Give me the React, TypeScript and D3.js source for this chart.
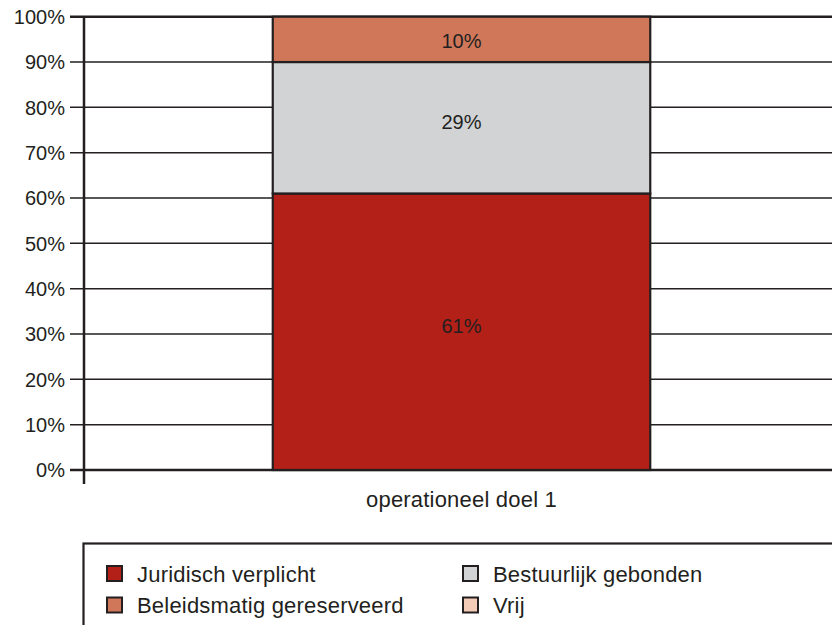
import React from "react";
import * as d3 from "d3";

const categories = ["operationeel doel 1"];
const seriesNames = ["Juridisch verplicht", "Bestuurlijk gebonden", "Beleidsmatig gereserveerd", "Vrij"];
const seriesValues = [[61], [29], [10], [0]];
const seriesColors = ["#B32017", "#D1D3D4", "#D0775A", "#F3CBB6"];
const yTicks = [0, 10, 20, 30, 40, 50, 60, 70, 80, 90, 100];
const legendOrder = [0, 1, 2, 3];

const W = 840;
const H = 633;
const M = { left: 84, right: 839, top: 16.7, bottom: 470 };
const DARK = "#231F20";
const FONT = "'Liberation Sans', Arial, Helvetica, sans-serif";

export default function App() {
  const x = d3.scaleBand().domain(categories).range([M.left, M.right]).paddingInner(0).paddingOuter(0.5);
  const y = d3.scaleLinear().domain([0, 100]).range([M.bottom, M.top]);

  const table = categories.map((c, ci) => {
    const row: any = { cat: c };
    seriesNames.forEach((s, si) => (row[s] = seriesValues[si][ci]));
    return row;
  });
  const stacked = d3.stack().keys(seriesNames)(table);

  const legendCols = [107, 463];
  const legendRows = [566, 597.5];

  return (
    <div style={{ margin: -8 }}>
      <svg width={W} height={H} style={{ display: "block", fontFamily: FONT }}>
        <rect x={0} y={0} width={W} height={H} fill="#fff" />
        {/* gridlines */}
        {yTicks.map((t) => (
          <line key={"g" + t} x1={70} x2={M.right} y1={y(t)} y2={y(t)} stroke={DARK} strokeWidth={t === 0 || t === 100 ? 2.5 : 1.5} />
        ))}
        {/* tick labels */}
        {yTicks.map((t) => (
          <text key={"t" + t} x={65} y={y(t)} dy="0.36em" textAnchor="end" fontSize={20} fill={DARK}>
            {t + "%"}
          </text>
        ))}
        {/* bars */}
        {stacked.map((layer, si) =>
          layer.map((d, ci) => {
            const v = d[1] - d[0];
            if (v <= 0) return null;
            const cat = categories[ci];
            return (
              <rect
                key={"b" + si + "-" + ci}
                x={x(cat)!}
                y={y(d[1])}
                width={x.bandwidth()}
                height={y(d[0]) - y(d[1])}
                fill={seriesColors[si]}
                stroke={DARK}
                strokeWidth={2.2}
              />
            );
          })
        )}
        {/* value labels */}
        {stacked.map((layer, si) =>
          layer.map((d, ci) => {
            const v = d[1] - d[0];
            if (v <= 0) return null;
            const cat = categories[ci];
            const center = (y(d[0]) + y(d[1])) / 2;
            const base = Math.max(center + 1, y(d[1]) + 31.6);
            return (
              <text key={"v" + si + "-" + ci} x={x(cat)! + x.bandwidth() / 2} y={base} textAnchor="middle" fontSize={20} fill={DARK}>
                {Math.round(v) + "%"}
              </text>
            );
          })
        )}
        {/* frame */}
        <line x1={M.left} x2={M.left} y1={M.top} y2={484} stroke={DARK} strokeWidth={2.5} />
        <line x1={M.right} x2={M.right} y1={M.top} y2={M.bottom} stroke={DARK} strokeWidth={2} />
        {/* category labels */}
        {categories.map((c) => (
          <text key={"c" + c} x={x(c)! + x.bandwidth() / 2} y={507} textAnchor="middle" fontSize={22} letterSpacing={0.2} fill={DARK}>
            {c}
          </text>
        ))}
        {/* legend */}
        <rect x={83.5} y={543.5} width={755} height={120} fill="none" stroke={DARK} strokeWidth={2.2} />
        {legendOrder.map((si, i) => {
          const col = i % 2;
          const row = Math.floor(i / 2);
          const lx = legendCols[col];
          const ly = legendRows[row];
          return (
            <g key={"l" + si}>
              <rect x={lx} y={ly} width={15} height={15} fill={seriesColors[si]} stroke={DARK} strokeWidth={2} />
              <text x={lx + 30} y={ly + 15.5} fontSize={22} letterSpacing={0.2} fill={DARK}>
                {seriesNames[si]}
              </text>
            </g>
          );
        })}
      </svg>
    </div>
  );
}
